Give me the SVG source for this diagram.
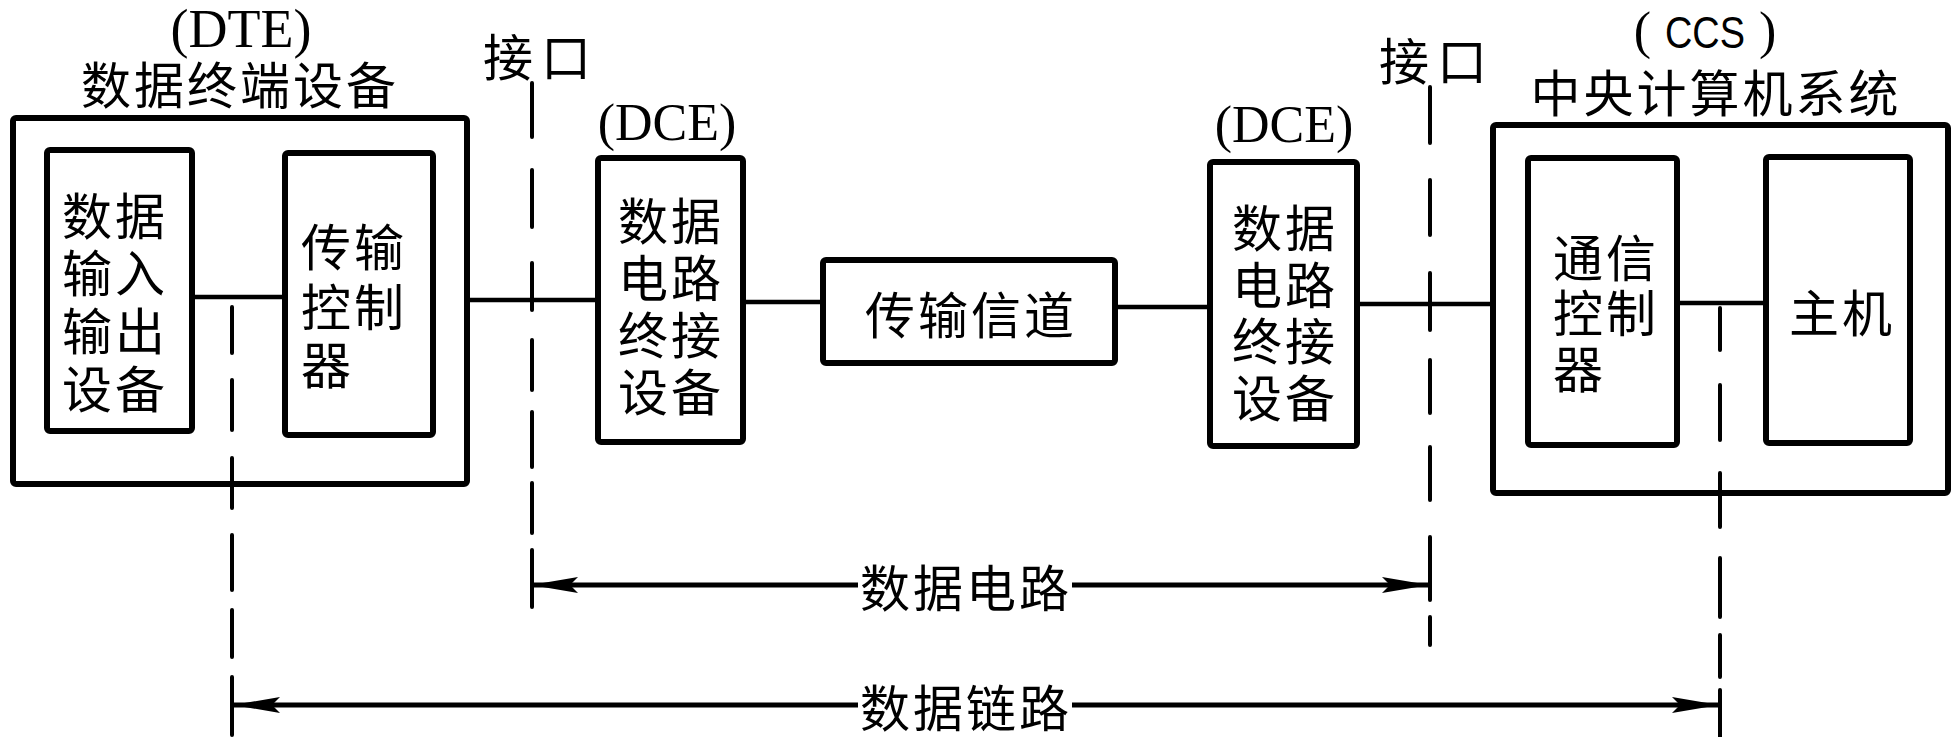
<svg xmlns="http://www.w3.org/2000/svg" width="1958" height="737" viewBox="0 0 1958 737">
<style>
.box{fill:#fff;stroke:#000;stroke-width:6}
.ln{fill:none;stroke:#000;stroke-width:4.5}
.dash{fill:none;stroke:#000;stroke-width:4;stroke-linecap:round}
.arr{fill:none;stroke:#000;stroke-width:5}
.cn{font-family:"Noto Sans CJK SC","Noto Sans CJK TC",sans-serif;font-size:50px;fill:#000;letter-spacing:3px}
.cm{text-anchor:middle;dominant-baseline:central}
.cs{text-anchor:start;dominant-baseline:central}
.lat{font-family:"Liberation Serif",serif;font-size:52px;fill:#000;text-anchor:middle}
.sans{font-family:"Liberation Sans",sans-serif;font-size:44px}
</style>
<defs>
<marker id="ah" viewBox="-48 -10 50 20" refX="0" refY="0" markerWidth="50" markerHeight="20" markerUnits="userSpaceOnUse" orient="auto">
<path d="M1,0 L-46,-8 L-38,0 L-46,8 Z" fill="#000"/>
</marker>
</defs>
<rect width="1958" height="737" fill="#fff"/>

<g id="dte">
<rect class="box" x="13" y="118" width="454" height="366" rx="3"/>
<text class="lat" x="241" y="47" style="font-size:54px">(DTE)</text>
<text class="cn cm" x="240" y="82">数据终端设备</text>
</g>
<g id="dte-io">
<rect class="box" x="47" y="150" width="145" height="281" rx="3"/>
<text class="cn cm" x="115" y="213">数据<tspan x="115" dy="57">输入</tspan><tspan x="115" dy="58">输出</tspan><tspan x="115" dy="58">设备</tspan></text>
</g>
<g id="dte-ctrl">
<rect class="box" x="285" y="153" width="148" height="282" rx="3"/>
<text class="cn cs" x="301" y="244">传输<tspan x="301" dy="60">控制</tspan><tspan x="301" dy="58">器</tspan></text>
</g>

<g id="dce1">
<rect class="box" x="598" y="158" width="145" height="284" rx="3"/>
<text class="lat" x="667" y="140">(DCE)</text>
<text class="cn cm" x="671" y="218">数据<tspan x="671" dy="57">电路</tspan><tspan x="671" dy="57">终接</tspan><tspan x="671" dy="57">设备</tspan></text>
</g>

<g id="channel">
<rect class="box" x="823" y="260" width="292" height="103" rx="3"/>
<text class="cn cm" x="971" y="312">传输信道</text>
</g>

<g id="dce2">
<rect class="box" x="1210" y="162" width="147" height="284" rx="3"/>
<text class="lat" x="1284" y="142">(DCE)</text>
<text class="cn cm" x="1285" y="225">数据<tspan x="1285" dy="57">电路</tspan><tspan x="1285" dy="56">终接</tspan><tspan x="1285" dy="57">设备</tspan></text>
</g>

<g id="ccs">
<rect class="box" x="1493" y="125" width="455" height="368" rx="3"/>
<text class="lat" x="1705" y="48">(<tspan class="sans" dx="14" textLength="80" lengthAdjust="spacingAndGlyphs">CCS</tspan><tspan dx="14">)</tspan></text>
<text class="cn cm" x="1716" y="90">中央计算机系统</text>
</g>
<g id="ccs-ctrl">
<rect class="box" x="1528" y="158" width="149" height="287" rx="3"/>
<text class="cn cs" x="1553" y="255">通信<tspan x="1553" dy="55">控制</tspan><tspan x="1553" dy="56">器</tspan></text>
</g>
<g id="host">
<rect class="box" x="1766" y="157" width="144" height="286" rx="3"/>
<text class="cn cm" x="1842" y="310">主机</text>
</g>

<g id="if-left">
<text class="cn cs" x="483" y="54" style="letter-spacing:8px">接口</text>
</g>
<g id="if-right">
<text class="cn cs" x="1379" y="58" style="letter-spacing:8px">接口</text>
</g>

<g id="connectors">
<path class="ln" d="M192,297 H285"/>
<path class="ln" d="M467,300 H598"/>
<path class="ln" d="M743,302 H823"/>
<path class="ln" d="M1115,307 H1210"/>
<path class="ln" d="M1357,304 H1493"/>
<path class="ln" d="M1677,303 H1766"/>
<path class="dash" d="M532,83 V137 M532,170 V227 M532,263 V310 M532,340 V390 M532,412 V467 M532,483 V533 M532,550 V607"/>
<path class="dash" d="M1430,87 V143 M1430,180 V235 M1430,273 V330 M1430,360 V413 M1430,447 V500 M1430,537 V600 M1430,617 V645"/>
<path class="dash" d="M232,307 V353 M232,380 V430 M232,458 V508 M232,535 V590 M232,610 V657 M232,677 V735"/>
<path class="dash" d="M1720,308 V350 M1720,385 V440 M1720,473 V527 M1720,558 V617 M1720,635 V677 M1720,690 V737"/>
<path class="arr" d="M858,585 H532" marker-end="url(#ah)"/>
<path class="arr" d="M1072,585 H1428" marker-end="url(#ah)"/>
<text class="cn cm" x="966" y="585">数据电路</text>
<path class="arr" d="M858,705 H234" marker-end="url(#ah)"/>
<path class="arr" d="M1072,705 H1718" marker-end="url(#ah)"/>
<text class="cn cm" x="966" y="705">数据链路</text>
</g>
</svg>
